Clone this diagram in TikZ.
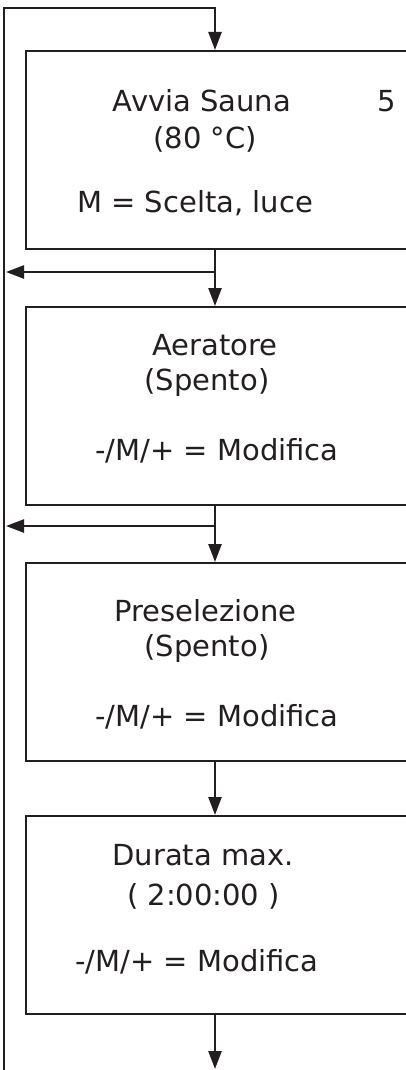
\documentclass[tikz,border=0pt]{standalone}
\usepackage{fontspec}
\setmainfont{DejaVu Sans}
\usetikzlibrary{arrows.meta}
\definecolor{ink}{HTML}{231F20}
\begin{document}
\begin{tikzpicture}[x=1pt,y=-1pt,
  line width=2.4pt,
  wire/.style={draw=ink, line width=2.4pt},
  arr/.style={wire, -{Triangle[length=18pt,width=13pt]}},
  menubox/.style={draw=ink, line width=2.4pt, rectangle, anchor=north west,
    minimum width=400pt, minimum height=198pt, inner sep=0pt},
  lbl/.style={anchor=base, inner sep=0pt, text=ink, font=\fontsize{29}{35}\selectfont}]
\clip (0,0) rectangle (406,1070);
\fill[white] (0,0) rectangle (406,1070);

% boxes
\node[menubox] (b1) at (25,50) {};
\node[menubox] (b2) at (25,306) {};
\node[menubox] (b3) at (25,562) {};
\node[menubox] (b4) at (25,815) {};

% texts
\node[lbl] (t1a) at (202,112) {Avvia Sauna};
\node[lbl] (t1n) at (387,112) {5};
\node[lbl] (t1b) at (205,148) {(80 °C)};
\node[lbl] (t1c) at (195,212) {M = Scelta, luce};

\node[lbl] (t2a) at (215,355) {Aeratore};
\node[lbl] (t2b) at (207,390) {(Spento)};
\node[lbl] (t2c) at (217,460) {-/M/+ = Modifica};

\node[lbl] (t3a) at (205.5,621) {Preselezione};
\node[lbl] (t3b) at (207,656) {(Spento)};
\node[lbl] (t3c) at (217,726) {-/M/+ = Modifica};

\node[lbl] (t4a) at (203,865) {Durata max.};
\node[lbl] (t4b) at (203.5,905) {( 2:00:00 )};
\node[lbl] (t4c) at (197,971) {-/M/+ = Modifica};

% connection points
\coordinate (lbot) at (4,1075);
\coordinate (ltop) at (4,8);
\coordinate (ttop) at (215,8);
\path (b1.north west) ++(190,0) coordinate (b1in);
\path (b1.south west) ++(190,0) coordinate (b1out);
\path (b2.north west) ++(190,0) coordinate (b2in);
\path (b2.south west) ++(190,0) coordinate (b2out);
\path (b3.north west) ++(190,0) coordinate (b3in);
\path (b3.south west) ++(190,0) coordinate (b3out);
\path (b4.north west) ++(190,0) coordinate (b4in);
\path (b4.south west) ++(190,0) coordinate (b4out);
\coordinate (fin) at (215,1069);
\coordinate (br1) at (215,272);
\coordinate (br2) at (215,526);
\coordinate (lhit1) at (6,272);
\coordinate (lhit2) at (6,526);

% connectors
\draw[arr] (lbot) -- (ltop) -- (ttop) -- (b1in);
\draw[arr] (b1out) -- (b2in);
\draw[arr] (br1) -- (lhit1);
\draw[arr] (b2out) -- (b3in);
\draw[arr] (br2) -- (lhit2);
\draw[arr] (b3out) -- (b4in);
\draw[arr] (b4out) -- (fin);
\end{tikzpicture}
\end{document}
